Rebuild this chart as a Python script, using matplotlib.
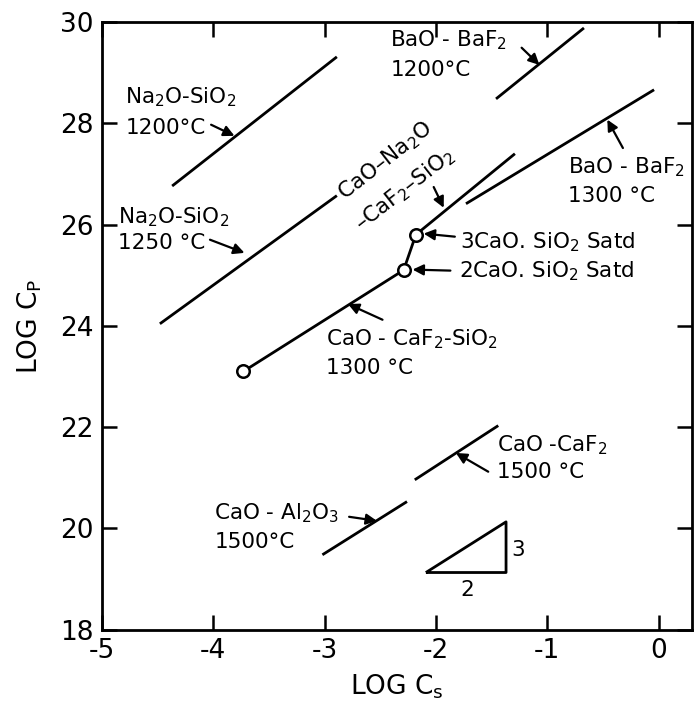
import matplotlib.pyplot as plt

plt.rcParams['font.family'] = 'DejaVu Sans'
plt.rcParams['axes.unicode_minus'] = False

# slag lines (log Cs, log Cp)
na2o_1200_x = [-4.37, -2.89]
na2o_1200_y = [26.76, 29.31]
na2o_1250_x = [-4.48, -2.89]
na2o_1250_y = [24.04, 26.57]
cao_sio2_x = [-3.73, -2.29, -2.18, -1.30]
cao_sio2_y = [23.10, 25.10, 25.80, 27.38]
bao_1300_x = [-1.73, -0.04]
bao_1300_y = [26.41, 28.66]
bao_1200_x = [-1.46, -0.67]
bao_1200_y = [28.48, 29.88]
caf2_1500_x = [-2.19, -1.44]
caf2_1500_y = [20.96, 22.03]
al2o3_1500_x = [-3.02, -2.26]
al2o3_1500_y = [19.48, 20.53]
tri_x = [-2.09, -1.37, -1.37, -2.09]
tri_y = [19.13, 19.13, 20.13, 19.13]

xticks = [-5, -4, -3, -2, -1, 0]
yticks = [18, 20, 22, 24, 26, 28, 30]

# labels: text, x, y
labels = [
    ("Na$_2$O-SiO$_2$", -4.79, 28.52),
    ("1200°C", -4.79, 27.91),
    ("Na$_2$O-SiO$_2$", -4.86, 26.15),
    ("1250 °C", -4.86, 25.64),
    ("BaO - BaF$_2$", -2.41, 29.64),
    ("1200°C", -2.41, 29.05),
    ("BaO - BaF$_2$", -0.81, 27.14),
    ("1300 °C", -0.81, 26.57),
    ("3CaO. SiO$_2$ Satd", -1.78, 25.66),
    ("2CaO. SiO$_2$ Satd", -1.79, 25.07),
    ("CaO - CaF$_2$-SiO$_2$", -2.99, 23.74),
    ("1300 °C", -2.99, 23.17),
    ("CaO -CaF$_2$", -1.45, 21.65),
    ("1500 °C", -1.45, 21.12),
    ("CaO - Al$_2$O$_3$", -3.99, 20.31),
    ("1500°C", -3.99, 19.74),
]

# arrows: tail, head
arrows = [
    ((-4.02, 27.97), (-3.81, 27.75)),
    ((-4.03, 25.70), (-3.72, 25.44)),
    ((-1.23, 29.49), (-1.07, 29.15)),
    ((-0.32, 27.51), (-0.46, 28.07)),
    ((-2.02, 26.74), (-1.93, 26.33)),
    ((-1.83, 25.76), (-2.11, 25.82)),
    ((-1.87, 25.09), (-2.21, 25.11)),
    ((-2.48, 24.12), (-2.79, 24.43)),
    ((-1.53, 21.12), (-1.82, 21.49)),
    ((-2.78, 20.23), (-2.53, 20.15)),
]

fs = 15.5

fig = plt.figure(figsize=(6.94, 7.06), dpi=100)
ax = fig.add_axes([0.147, 0.108, 0.85, 0.861])

lw = 2.0
for xs, ys in [(na2o_1200_x, na2o_1200_y), (na2o_1250_x, na2o_1250_y),
               (bao_1300_x, bao_1300_y), (bao_1200_x, bao_1200_y),
               (caf2_1500_x, caf2_1500_y), (al2o3_1500_x, al2o3_1500_y),
               (tri_x, tri_y)]:
    ax.plot(xs, ys, color="black", lw=lw, solid_capstyle="butt")

ax.plot(cao_sio2_x, cao_sio2_y, color="black", lw=lw, marker="o",
        markevery=[0, 1, 2], ms=9, mfc="white", mec="black", mew=1.8)

for txt, x, y in labels:
    ax.text(x, y, txt, fontsize=fs, ha="left", va="center")

ax.text(-2.45, 27.26, "CaO–Na$_2$O", fontsize=fs, rotation=38,
        ha="center", va="center", rotation_mode="anchor")
ax.text(-2.28, 26.68, "–CaF$_2$–SiO$_2$", fontsize=fs, rotation=38,
        ha="center", va="center", rotation_mode="anchor")
ax.text(-1.26, 19.58, "3", fontsize=fs, ha="center", va="center")
ax.text(-1.72, 18.79, "2", fontsize=fs, ha="center", va="center")

for tail, head in arrows:
    ax.annotate("", xy=head, xytext=tail,
                arrowprops=dict(arrowstyle="-|>", color="black", lw=1.6,
                                mutation_scale=16, shrinkA=0, shrinkB=0))

ax.set_xlim(-5, 0.3)
ax.set_ylim(18, 30)
ax.set_xticks(xticks)
ax.set_yticks(yticks)
ax.tick_params(direction="in", length=11, width=1.8, labelsize=19,
               top=True, right=True, pad=6)
for s in ax.spines.values():
    s.set_linewidth(2.0)

ax.set_xlabel("LOG C$_\\mathrm{s}$", fontsize=19, labelpad=6)
ax.set_ylabel("LOG C$_\\mathrm{P}$", fontsize=19, labelpad=12)

fig.savefig("out.png", dpi=100)
